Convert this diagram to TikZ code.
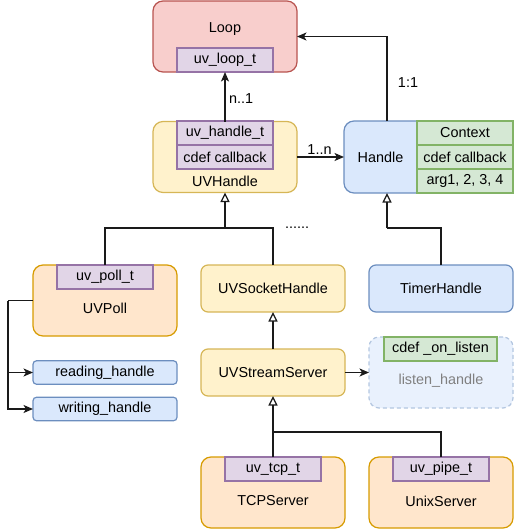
\documentclass[tikz,border=0pt]{standalone}
\usepackage{fontspec}
\setmainfont{Liberation Sans}
\usetikzlibrary{arrows.meta,calc}
\definecolor{redF}{HTML}{F8CECC}\definecolor{redS}{HTML}{B85450}
\definecolor{purF}{HTML}{E1D5E7}\definecolor{purS}{HTML}{9673A6}
\definecolor{yelF}{HTML}{FFF2CC}\definecolor{yelS}{HTML}{D6B656}
\definecolor{bluF}{HTML}{DAE8FC}\definecolor{bluS}{HTML}{6C8EBF}
\definecolor{grnF}{HTML}{D5E8D4}\definecolor{grnS}{HTML}{82B366}
\definecolor{orgF}{HTML}{FFE6CC}\definecolor{orgS}{HTML}{D79B00}
\definecolor{lisF}{HTML}{E9F1FD}\definecolor{lisS}{HTML}{B3C6E0}
\definecolor{lisT}{HTML}{808080}
\definecolor{lineC}{HTML}{1A1A1A}
\begin{document}
\begin{tikzpicture}[x=1pt,y=-1pt,
  every node/.style={font=\fontsize{14.4}{17}\selectfont, inner sep=0pt, outer sep=0pt},
  box/.style={draw, line width=1.2pt, minimum width=144pt},
  bigbox/.style={box, minimum height=71pt, rounded corners=10pt},
  midbox/.style={box, minimum height=47pt, rounded corners=7pt},
  smallbox/.style={box, minimum height=23.5pt, rounded corners=3.5pt},
  tag/.style={draw=purS, fill=purF, line width=1.2pt, minimum width=96pt, minimum height=24pt},
  gtag/.style={draw=grnS, fill=grnF, line width=1.2pt, minimum width=96pt, minimum height=24pt},
  conn/.style={draw=lineC, line width=1.2pt},
  assoc/.style={conn, -{Stealth[length=9.5pt,width=8pt,inset=2.5pt]}},
  inherit/.style={conn, -{Triangle[open,length=9.5pt,width=9pt,fill=white]}},
  lbl/.style={font=\fontsize{14.4}{17}\selectfont}
]
\useasboundingbox (0,0) rectangle (514,530);

% Loop
\node[bigbox, draw=redS, fill=redF] (loop) at (225,36.5) {};
\node[lbl] (looptxt) at (225,29) {Loop};
\node[tag] (looptag) at (225,60) {uv\_loop\_t};

% UVHandle
\node[bigbox, draw=yelS, fill=yelF] (uvh) at (225,157) {};
\node[tag] (uvht) at (225,133) {uv\_handle\_t};
\node[tag] (uvhcb) at (225,157) {cdef callback};
\node[lbl] (uvhtxt) at (225,181) {UVHandle};

% Handle
\node[box, draw=bluS, fill=bluF, minimum width=169pt, minimum height=72pt, rounded corners=10pt] (handle) at (428.5,157) {};
\node[lbl] (handletxt) at (380.5,157) {Handle};
\node[gtag] (ctx) at (465,133) {Context};
\node[gtag] (ctxcb) at (465,157) {cdef callback};
\node[gtag] (ctxarg) at (465,181) {arg1, 2, 3, 4};

% second row
\node[bigbox, draw=orgS, fill=orgF] (uvpoll) at (105,300.5) {};
\node[tag] (polltag) at (105,277) {uv\_poll\_t};
\node[lbl] (polltxt) at (105,308) {UVPoll};

\node[midbox, draw=yelS, fill=yelF] (uvsock) at (273,288.5) {UVSocketHandle};
\node[midbox, draw=bluS, fill=bluF] (timer) at (441,288.5) {TimerHandle};

% third row
\node[smallbox, draw=bluS, fill=bluF] (reading) at (105,372.5) {reading\_handle};
\node[smallbox, draw=bluS, fill=bluF] (writing) at (105,409) {writing\_handle};
\node[midbox, draw=yelS, fill=yelF] (uvss) at (273,372.5) {UVStreamServer};
\node[bigbox, draw=lisS, fill=lisF, dashed, dash pattern=on 4pt off 3pt] (listen) at (441,372.5) {};
\node[gtag, minimum width=113pt] (onlisten) at (440.5,349) {cdef \_on\_listen};
\node[lbl, text=lisT] (listentxt) at (441,381) {listen\_handle};

% bottom row
\node[bigbox, draw=orgS, fill=orgF] (tcp) at (273,492.5) {};
\node[tag] (tcptag) at (273,469) {uv\_tcp\_t};
\node[lbl] (tcptxt) at (273,501) {TCPServer};
\node[bigbox, draw=orgS, fill=orgF] (unix) at (441,492.5) {};
\node[tag] (unixtag) at (441,469) {uv\_pipe\_t};
\node[lbl] (unixtxt) at (441,501) {UnixServer};

% coordinates
\coordinate (htop) at (387,121);
\coordinate (hbot) at (387,193);
\coordinate (j1) at (225,228);
\coordinate (j2) at (387,228);
\coordinate (j3) at (273,432);
\coordinate (pb) at (8,300.5);

% connectors
\draw[assoc] (uvh.north) -- node[right, xshift=4pt, yshift=-2pt] (n1) {n..1} (loop.south);
\draw[assoc] (uvh.east) -- node[above, yshift=3pt, xshift=-1pt] (l1n) {1..n} (handle.west);
\draw[assoc] (htop) |- (loop.east);
\node[lbl] (l11) at (408,83) {1:1};

\draw[conn] (uvpoll.north) |- (j1);
\draw[conn] (uvsock.north) |- (j1);
\draw[inherit] (j1) -- (uvh.south);
\node[lbl] (dots) at (297,228) {......};

\draw[conn] (timer.north) |- (j2);
\draw[inherit] (j2) -- (hbot);

\draw[inherit] (uvss.north) -- (uvsock.south);
\draw[assoc] (uvss.east) -- (listen.west);

\draw[conn] (tcp.north) -- (j3);
\draw[conn] (unix.north) |- (j3);
\draw[inherit] (j3) -- (uvss.south);

\draw[conn] (uvpoll.west) -- (pb);
\draw[assoc] (pb) |- (reading.west);
\draw[assoc] (pb) |- (writing.west);
\end{tikzpicture}
\end{document}
